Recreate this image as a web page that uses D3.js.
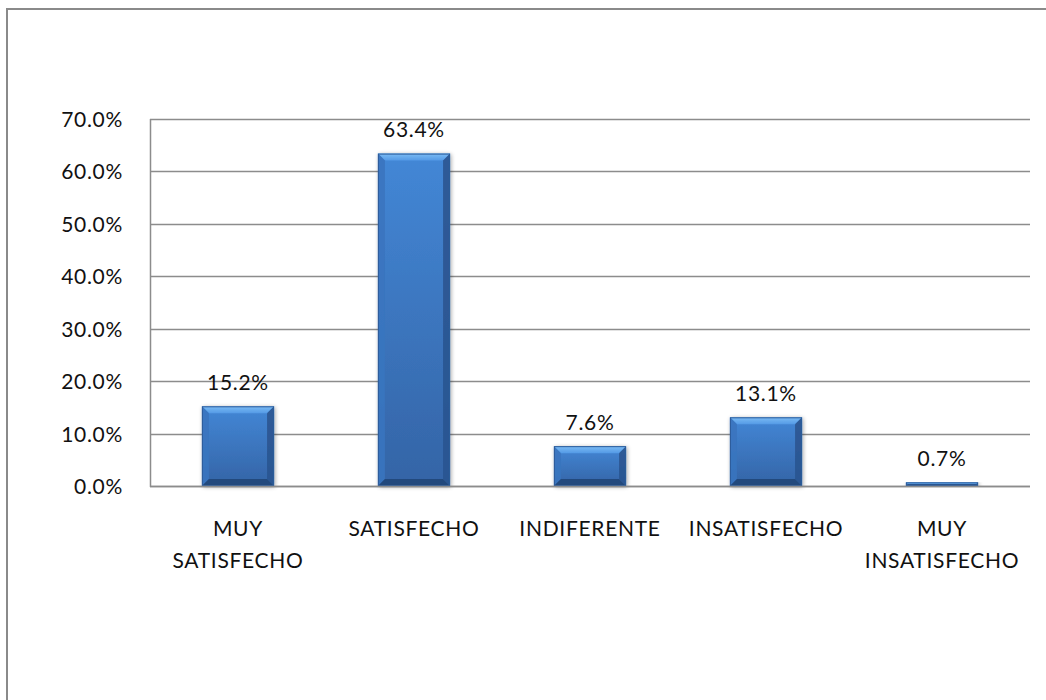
<!DOCTYPE html>
<html>
<head>
<meta charset="utf-8">
<script src="https://cdn.jsdelivr.net/npm/d3@7"></script>
<style>
  html, body { margin: 0; padding: 0; background: #fff; }
  svg { display: block; }
  text { font-family: Lato, "Liberation Sans", sans-serif; fill: #111; letter-spacing: 0.7px; }
</style>
</head>
<body>
<svg id="chart" width="1046" height="700"></svg>
<script>
// ---- data ----
const categories = ["MUY\nSATISFECHO", "SATISFECHO", "INDIFERENTE", "INSATISFECHO", "MUY\nINSATISFECHO"];
const values = [0.152, 0.634, 0.076, 0.131, 0.007];
const valueLabels = ["15.2%", "63.4%", "7.6%", "13.1%", "0.7%"];
const yTicks = [0, 0.1, 0.2, 0.3, 0.4, 0.5, 0.6, 0.7];

// ---- layout ----
const W = 1046, H = 700;
const FS = 21;
const plot = { left: 150, right: 1030, top: 119, bottom: 486 };
const svg = d3.select("#chart");

// outer chart border (only top & left visible in frame)
svg.append("rect")
  .attr("x", 7).attr("y", 9)
  .attr("width", 1200).attr("height", 900)
  .attr("fill", "none").attr("stroke", "#8a8a8a").attr("stroke-width", 2);

const x = d3.scaleBand()
  .domain(categories)
  .range([plot.left, plot.right])
  .paddingInner(0.59).paddingOuter(0.295);

const y = d3.scaleLinear().domain([0, 0.7]).range([plot.bottom, plot.top]);

// gridlines
svg.append("g").selectAll("line").data(yTicks).join("line")
  .attr("x1", plot.left).attr("x2", plot.right)
  .attr("y1", d => Math.round(y(d)) + 0.5).attr("y2", d => Math.round(y(d)) + 0.5)
  .attr("stroke", "#8c8c8c").attr("stroke-width", 1.5);

// y axis line
svg.append("line")
  .attr("x1", plot.left + 0.5).attr("x2", plot.left + 0.5)
  .attr("y1", plot.top).attr("y2", plot.bottom + 1)
  .attr("stroke", "#8c8c8c").attr("stroke-width", 1.5);

// y tick labels
const yAxis = d3.axisLeft(y).tickValues(yTicks).tickFormat(d3.format(".1%")).tickSize(0).tickPadding(27);
const gy = svg.append("g").attr("transform", `translate(${plot.left},0)`).call(yAxis);
gy.select(".domain").remove();
gy.selectAll("text").attr("font-size", FS).attr("font-family", "Lato, sans-serif").attr("fill", "#111").attr("dy", "0.36em");

// defs: gradients
const defs = svg.append("defs");
const g1 = defs.append("linearGradient").attr("id", "barFill").attr("x1", 0).attr("y1", 0).attr("x2", 0).attr("y2", 1);
g1.append("stop").attr("offset", "0%").attr("stop-color", "#4387d6");
g1.append("stop").attr("offset", "100%").attr("stop-color", "#3464a6");
const gTop = defs.append("linearGradient").attr("id", "topBevel").attr("x1", 0).attr("y1", 0).attr("x2", 0).attr("y2", 1);
gTop.append("stop").attr("offset", "0%").attr("stop-color", "#7cbcf4");
gTop.append("stop").attr("offset", "100%").attr("stop-color", "#549ae6");
const shadow = defs.append("filter").attr("id", "shadow").attr("x", "-20%").attr("y", "-20%").attr("width", "140%").attr("height", "140%");
shadow.append("feGaussianBlur").attr("in", "SourceAlpha").attr("stdDeviation", 2);
shadow.append("feOffset").attr("dx", 1).attr("dy", 1).attr("result", "b");
shadow.append("feComponentTransfer").append("feFuncA").attr("type", "linear").attr("slope", 0.35);
const merge = shadow.append("feMerge");
merge.append("feMergeNode");
merge.append("feMergeNode").attr("in", "SourceGraphic");

// bars
const bars = svg.append("g").selectAll("g").data(categories).join("g")
  .attr("filter", "url(#shadow)");
bars.each(function(c, i) {
  const g = d3.select(this);
  const x0 = x(c), x1 = x(c) + x.bandwidth();
  const yT = y(values[i]), yB = y(0);
  const h = yB - yT;
  const b = Math.min(7, h / 2);
  g.append("rect").attr("x", x0).attr("y", yT).attr("width", x1 - x0).attr("height", h).attr("fill", "url(#barFill)");
  // top bevel
  g.append("polygon").attr("points", [[x0, yT], [x1, yT], [x1 - b, yT + b], [x0 + b, yT + b]].join(" "))
    .attr("fill", "url(#topBevel)");
  // left bevel
  g.append("polygon").attr("points", [[x0, yT], [x0 + b, yT + b], [x0 + b, yB - b], [x0, yB]].join(" "))
    .attr("fill", "#3a74bf").attr("opacity", 0.9);
  // right bevel
  g.append("polygon").attr("points", [[x1, yT], [x1 - b, yT + b], [x1 - b, yB - b], [x1, yB]].join(" "))
    .attr("fill", "#2b5590").attr("opacity", 0.9);
  // bottom bevel
  g.append("polygon").attr("points", [[x0, yB], [x0 + b, yB - b], [x1 - b, yB - b], [x1, yB]].join(" "))
    .attr("fill", "#24497d");
  g.append("rect").attr("x", x0 + 0.5).attr("y", yT + 0.5).attr("width", x1 - x0 - 1).attr("height", Math.max(0, h - 1))
    .attr("fill", "none").attr("stroke", "#2d5c9a").attr("stroke-width", 1);
});

// x axis line (drawn over bar bottoms)
svg.append("line")
  .attr("x1", plot.left).attr("x2", plot.right)
  .attr("y1", plot.bottom + 0.5).attr("y2", plot.bottom + 0.5)
  .attr("stroke", "#8c8c8c").attr("stroke-width", 1.5);

// value labels
svg.append("g").selectAll("text").data(categories).join("text")
  .attr("x", c => x(c) + x.bandwidth() / 2)
  .attr("y", (c, i) => y(values[i]) - 24)
  .attr("dy", "0.36em")
  .attr("text-anchor", "middle")
  .attr("font-size", FS)
  .text((c, i) => valueLabels[i]);

// category labels
const xl = svg.append("g").selectAll("text").data(categories).join("text")
  .attr("text-anchor", "middle")
  .attr("font-size", FS)
  .attr("transform", c => `translate(${x(c) + x.bandwidth() / 2},${plot.bottom + 42})`);
xl.each(function(c) {
  const lines = c.split("\n");
  d3.select(this).selectAll("tspan").data(lines).join("tspan")
    .attr("x", 0).attr("y", (d, j) => j * 32).attr("dy", "0.36em").text(d => d);
});
</script>
</body>
</html>
